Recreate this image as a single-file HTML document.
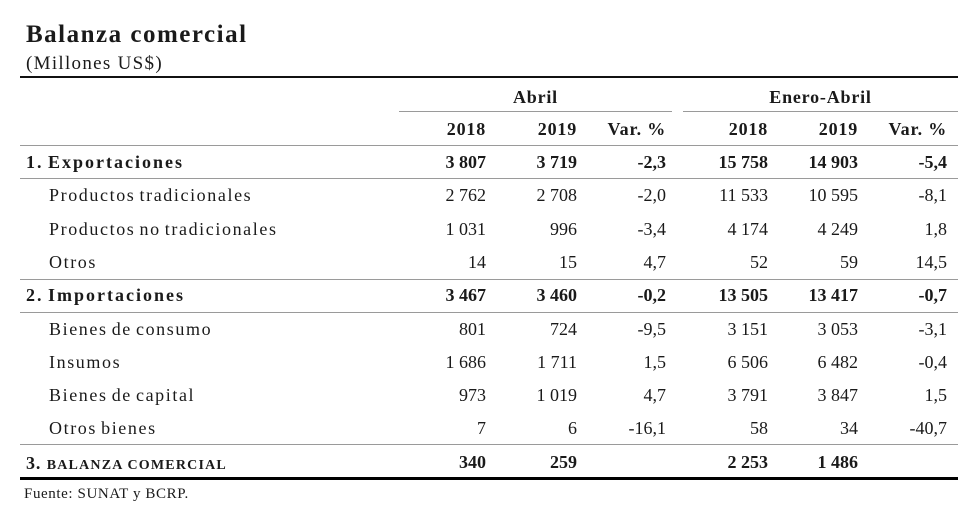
<!DOCTYPE html>
<html><head><meta charset="utf-8"><style>
body{margin:0;background:#fff;width:980px;height:531px;position:relative;overflow:hidden;font-family:"Liberation Serif",serif;color:#1a1a1a}
.t{position:absolute;white-space:nowrap;line-height:1}
.r{text-align:right}
.b{font-weight:bold}
.ln{position:absolute;height:1px;background:#9a9a9a}
</style></head><body>
<div class="t b" style="left:26px;top:22px;font-size:25px;letter-spacing:1.5px">Balanza comercial</div>
<div class="t" style="left:26px;top:54px;font-size:19px;letter-spacing:1.3px">(Millones US$)</div>
<div class="ln" style="left:20px;width:938px;top:76px;height:2px;background:#111"></div>
<div class="t b" style="left:399px;width:273px;text-align:center;top:88px;font-size:18px;letter-spacing:0.8px">Abril</div>
<div class="t b" style="left:683px;width:275px;text-align:center;top:88px;font-size:18px;letter-spacing:0.8px">Enero-Abril</div>
<div class="ln" style="left:399px;width:273px;top:111px"></div>
<div class="ln" style="left:683px;width:275px;top:111px"></div>
<div id="tbl"></div>
<div class="ln" style="left:20px;width:938px;top:145px"></div>
<div class="ln" style="left:20px;width:938px;top:178px"></div>
<div class="ln" style="left:20px;width:938px;top:279px"></div>
<div class="ln" style="left:20px;width:938px;top:312px"></div>
<div class="ln" style="left:20px;width:938px;top:444px"></div>
<div class="ln" style="left:20px;width:938px;top:477px;height:3px;background:#000"></div>
<div class="t" style="left:24px;top:487px;font-size:15px;letter-spacing:0.6px">Fuente: SUNAT y BCRP.</div>
<script>
const headers=["2018","2019","Var. %","2018","2019","Var. %"];
const labels=["1. Exportaciones","Productos tradicionales","Productos no tradicionales","Otros","2. Importaciones","Bienes de consumo","Insumos","Bienes de capital","Otros bienes","3. BALANZA COMERCIAL"];
const abril2018=["3 807","2 762","1 031","14","3 467","801","1 686","973","7","340"];
const abril2019=["3 719","2 708","996","15","3 460","724","1 711","1 019","6","259"];
const abrilVar=["-2,3","-2,0","-3,4","4,7","-0,2","-9,5","1,5","4,7","-16,1",""];
const ea2018=["15 758","11 533","4 174","52","13 505","3 151","6 506","3 791","58","2 253"];
const ea2019=["14 903","10 595","4 249","59","13 417","3 053","6 482","3 847","34","1 486"];
const eaVar=["-5,4","-8,1","1,8","14,5","-0,7","-3,1","-0,4","1,5","-40,7",""];
const boldRows=[0,4,9];
const colRight=[486,577,666,768,858,947];
const cols=[abril2018,abril2019,abrilVar,ea2018,ea2019,eaVar];
const tb=document.getElementById('tbl');
function mk(txt,cls,style){const d=document.createElement('div');d.className='t '+cls;d.textContent=txt;d.style.cssText=style;tb.appendChild(d);return d;}
headers.forEach((h,i)=>{const d=mk(h,'b r',`right:${980-colRight[i]}px;top:120px;font-size:18px;letter-spacing:0.8px`);

});
labels.forEach((l,r)=>{const y=153+r*33.3;const bold=boldRows.includes(r);
let d;
if(r===9){d=mk('','b',`left:26px;top:${y+1}px;font-size:18px;letter-spacing:0.9px`);d.innerHTML='3. <span style="font-size:14px;letter-spacing:1.2px">BALANZA COMERCIAL</span>';}
else d=mk(l,bold?'b':'',`left:${bold?26:49}px;top:${y}px;font-size:18px;letter-spacing:${bold?2:1.6}px;word-spacing:-2px`);


cols.forEach((c,i)=>{const v=mk(c[r],'r'+(bold?' b':''),`right:${980-colRight[i]}px;top:${y}px;font-size:18px`);

});});
</script>
</body></html>
